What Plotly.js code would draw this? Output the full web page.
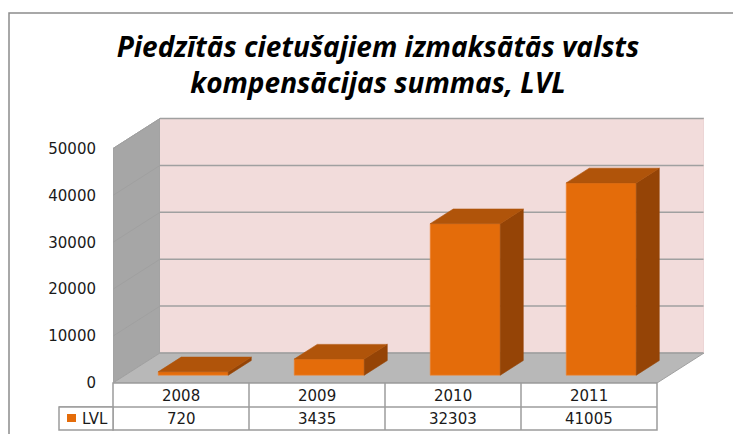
<!DOCTYPE html>
<html>
<head>
<meta charset="utf-8">
<script src="https://cdn.plot.ly/plotly-3.0.1.min.js"></script>
<style>html,body{margin:0;padding:0;background:#fff;}#chart{width:733px;height:434px;}</style>
</head>
<body>
<div id="chart"></div>
<script>
// ---- data ----
const years = ['2008', '2009', '2010', '2011'];
const values = [720, 3435, 32303, 41005];
const seriesName = 'LVL';
const yTickVals = [0, 10000, 20000, 30000, 40000, 50000];
const yTickText = ['0', '10000', '20000', '30000', '40000', '50000'];
const chartTitle = 'Piedzītās cietušajiem izmaksātās valsts<br>kompensācijas summas, LVL';

// ---- geometry (pseudo-3D oblique projection) ----
const W = 733, H = 434;
const L = 113;                 // left edge of plot (front-left corner)
const colPx = 136;             // px per category column
const pxPerUnit = 4.69 / 1000; // px per value unit
const dX = 47 / colPx;         // wall depth in x units
const dY = 30 / pxPerUnit;     // wall depth in value units
const R = 4 + dX;
const plotW = R * colPx;
const B = H - 383;
const T = 100;
const plotH = H - T - B;
const yMax = plotH / pxPerUnit;
const wallTop = yTickVals[yTickVals.length - 1];
const f1 = 0.26, f2 = 0.75, bw = 0.515;

const orange = '#E46C0A', orangeTop = '#B0540A', orangeSide = '#954406';
const gridCol = '#A0A0A0';

function px2px(x) { return (x - L) / plotW; }       // pixel x -> paper
function py2py(y) { return (H - B - y) / plotH; }   // pixel y -> paper

const shapes = [];
// side wall
shapes.push({type: 'path', xref: 'x', yref: 'y', layer: 'below',
  path: `M0,0 L0,${wallTop} L${dX},${wallTop + dY} L${dX},${dY} Z`,
  fillcolor: '#A6A6A6', line: {color: gridCol, width: 1}});
// back wall
shapes.push({type: 'rect', xref: 'x', yref: 'y', layer: 'below',
  x0: dX, x1: R, y0: dY, y1: wallTop + dY,
  fillcolor: '#F2DCDB', line: {width: 0}});
// floor
shapes.push({type: 'path', xref: 'x', yref: 'y', layer: 'below',
  path: `M0,0 L${dX},${dY} L${R},${dY} L${years.length},0 Z`,
  fillcolor: '#B8B8B8', line: {color: gridCol, width: 1}});
// gridlines
yTickVals.forEach(v => {
  shapes.push({type: 'line', xref: 'x', yref: 'y', layer: 'below',
    x0: dX, x1: R, y0: v + dY, y1: v + dY, line: {color: gridCol, width: 1.5}});
  if (v > 0) shapes.push({type: 'line', xref: 'x', yref: 'y', layer: 'below',
    x0: 0, x1: dX, y0: v, y1: v + dY, line: {color: gridCol, width: 1}});
});
shapes.push({type: 'line', xref: 'x', yref: 'y', layer: 'below',
  x0: R, x1: R, y0: dY, y1: wallTop + dY, line: {color: '#E6CFCE', width: 1}});

// ---- data table ----
const tblCol = '#9C9C9C';
const rowY = [383, 407, 430];
const xs = years.map((_, i) => i / R).concat([years.length / R]);
shapes.push({type: 'rect', xref: 'paper', yref: 'paper', x0: 0, x1: years.length / R,
  y0: py2py(rowY[2]), y1: py2py(rowY[0]), fillcolor: '#FFFFFF', line: {color: tblCol, width: 1.5}});
shapes.push({type: 'line', xref: 'paper', yref: 'paper', x0: px2px(59), x1: years.length / R,
  y0: py2py(rowY[1]), y1: py2py(rowY[1]), line: {color: tblCol, width: 1.5}});
xs.slice(1, -1).forEach(x => shapes.push({type: 'line', xref: 'paper', yref: 'paper',
  x0: x, x1: x, y0: py2py(rowY[2]), y1: py2py(rowY[0]), line: {color: tblCol, width: 1.5}}));
// legend cell
shapes.push({type: 'rect', xref: 'paper', yref: 'paper', x0: px2px(59), x1: 0,
  y0: py2py(rowY[2]), y1: py2py(rowY[1]), fillcolor: '#FFFFFF', line: {color: tblCol, width: 1.5}});
shapes.push({type: 'rect', xref: 'paper', yref: 'paper', x0: px2px(67), x1: px2px(76),
  y0: py2py(422), y1: py2py(414), fillcolor: orange, line: {width: 0}});
// outer chart frame
shapes.push({type: 'rect', xref: 'paper', yref: 'paper', x0: px2px(9), x1: px2px(745),
  y0: py2py(450), y1: py2py(13), line: {color: '#8C8C8C', width: 1.5}});

const cellFont = {family: 'DejaVu Sans, Verdana, sans-serif', size: 15, color: '#1a1a1a'};
const annotations = [];
years.forEach((yr, i) => {
  annotations.push({xref: 'paper', yref: 'paper', x: (i + 0.5) / R, y: py2py(395.5),
    text: yr, showarrow: false, font: cellFont, xanchor: 'center', yanchor: 'middle'});
  annotations.push({xref: 'paper', yref: 'paper', x: (i + 0.5) / R, y: py2py(418.5),
    text: String(values[i]), showarrow: false, font: cellFont, xanchor: 'center', yanchor: 'middle'});
});
annotations.push({xref: 'paper', yref: 'paper', x: px2px(80), y: py2py(418.5),
  text: seriesName, showarrow: false, font: cellFont, xanchor: 'left', yanchor: 'middle'});

// ---- bars ----
const ddx = (f2 - f1) * dX, ddy = (f2 - f1) * dY;
const frontX = years.map((_, i) => i + 0.5 + f1 * dX);
const base = f1 * dY;
const topX = [], topY = [], sideX = [], sideY = [];
values.forEach((v, i) => {
  const xl = frontX[i] - bw / 2, xr = frontX[i] + bw / 2, yt = base + v;
  topX.push(xl, xr, xr + ddx, xl + ddx, xl, null);
  topY.push(yt, yt, yt + ddy, yt + ddy, yt, null);
  sideX.push(xr, xr, xr + ddx, xr + ddx, xr, null);
  sideY.push(base, yt, yt + ddy, base + ddy, base, null);
});

const traces = [
  {type: 'bar', x: frontX, y: values, base: base, width: bw, name: seriesName,
    marker: {color: orange, line: {color: '#EE8A3A', width: 0.6}}, hoverinfo: 'skip', showlegend: false},
  {type: 'scatter', mode: 'lines', x: sideX, y: sideY, fill: 'toself', fillcolor: orangeSide,
    line: {color: orangeSide, width: 0.6}, hoverinfo: 'skip', showlegend: false},
  {type: 'scatter', mode: 'lines', x: topX, y: topY, fill: 'toself', fillcolor: orangeTop,
    line: {color: orangeTop, width: 0.6}, hoverinfo: 'skip', showlegend: false}
];

const layout = {
  width: W, height: H,
  margin: {l: L, r: W - L - plotW, t: T, b: B, pad: 0},
  paper_bgcolor: '#FFFFFF', plot_bgcolor: 'rgba(0,0,0,0)',
  showlegend: false, hovermode: false,
  title: {text: chartTitle, xref: 'paper', x: px2px(378), xanchor: 'center',
    yref: 'container', y: 1 - 57 / H, yanchor: 'middle',
    font: {family: '"Open Sans", Calibri, sans-serif', size: 28, color: '#000', weight: 'bold', style: 'italic'}},
  xaxis: {range: [0, R], showgrid: false, zeroline: false, showline: false,
    showticklabels: false, ticks: '', fixedrange: true},
  yaxis: {range: [0, yMax], tickvals: yTickVals, ticktext: yTickText, showgrid: false,
    zeroline: false, showline: false, ticks: '', ticklabelstandoff: 16,
    tickfont: {family: 'DejaVu Sans, Verdana, sans-serif', size: 15, color: '#1a1a1a'}, fixedrange: true},
  shapes: shapes, annotations: annotations
};

Plotly.newPlot('chart', traces, layout, {displayModeBar: false, staticPlot: true});
</script>
</body>
</html>
